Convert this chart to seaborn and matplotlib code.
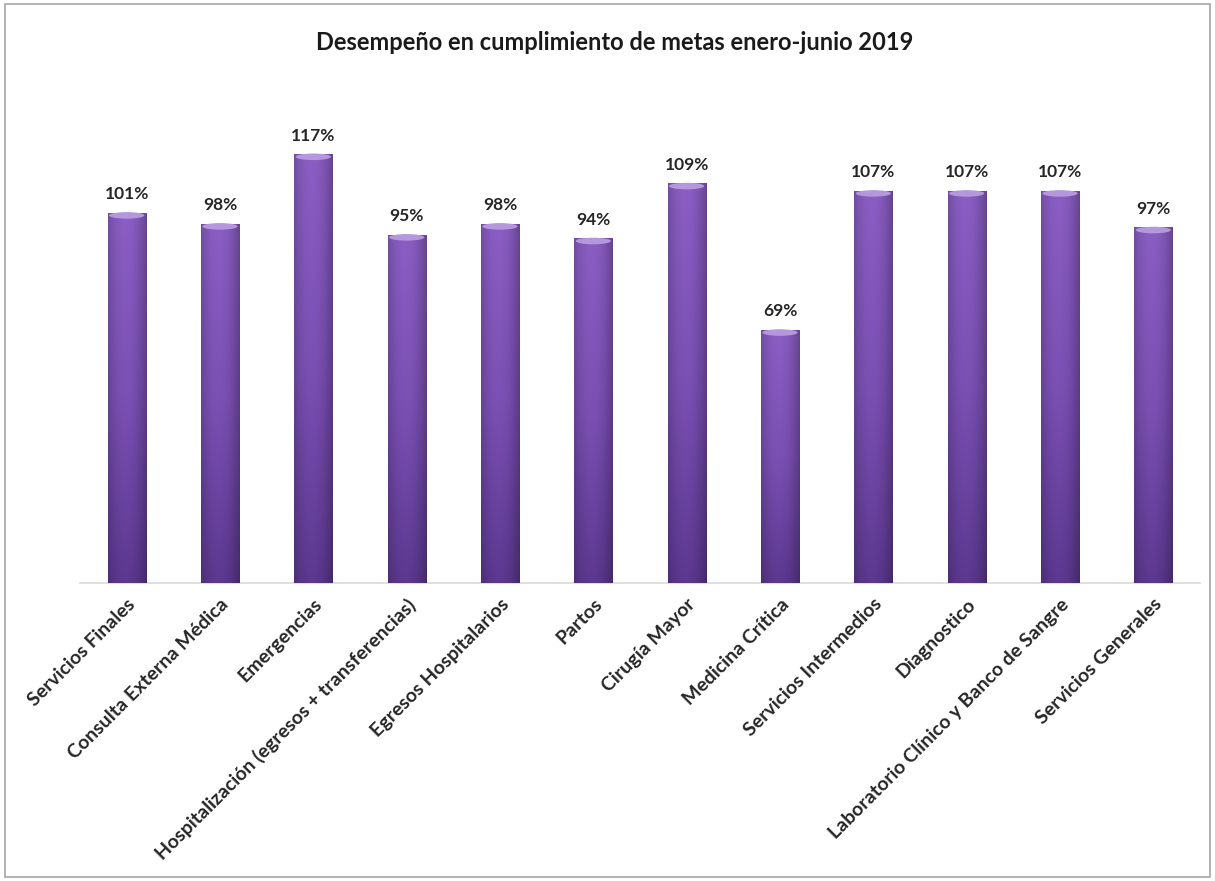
import numpy as np
import pandas as pd
import matplotlib
matplotlib.use("Agg")
import matplotlib.pyplot as plt
import seaborn as sns
from matplotlib.patches import Rectangle, Ellipse
from matplotlib.colors import LinearSegmentedColormap

categories = ["Servicios Finales", "Consulta Externa Médica", "Emergencias",
              "Hospitalización (egresos + transferencias)", "Egresos Hospitalarios",
              "Partos", "Cirugía Mayor", "Medicina Crítica", "Servicios Intermedios",
              "Diagnostico", "Laboratorio Clínico y Banco de Sangre", "Servicios Generales"]
values = [101, 98, 117, 95, 98, 94, 109, 69, 107, 107, 107, 97]
title = "Desempeño en cumplimiento de metas enero-junio 2019"

sns.set_theme(style="white")
plt.rcParams["font.family"] = ["Lato", "DejaVu Sans"]

df = pd.DataFrame({"cat": categories, "val": values})

fig = plt.figure(figsize=(12.15, 8.81), dpi=100)
ax = fig.add_axes([80/1215, 1-583/881, 1120/1215, 476/881])

sns.barplot(data=df, x="cat", y="val", color="#7a4fb0", width=0.41,
            saturation=1, ax=ax, zorder=2)

# gradient overlay on each bar
cmap = LinearSegmentedColormap.from_list("pg", ["#5c3890", "#7b50b4", "#8a5ec4"])
grad = np.linspace(0, 1, 256).reshape(-1, 1)
xs = np.linspace(0, 1, 64)
shade = 1 - 0.22 * (np.abs(xs - 0.45) * 2) ** 2
for p in ax.patches:
    x0, w, h = p.get_x(), p.get_width(), p.get_height()
    rgba = cmap(grad)[:, :, :3]
    img = rgba * shade[None, :, None]
    ax.imshow(img, extent=[x0, x0 + w, 0, h], origin="lower", aspect="auto",
              zorder=3, interpolation="bilinear")
    cap = Ellipse((x0 + w / 2, h - 0.6), w * 0.92, 1.8, color="#b497dc", zorder=4, lw=0)
    ax.add_patch(cap)
    p.set_edgecolor("none")

for i, v in enumerate(values):
    ax.text(i, v + 3, f"{v}%", ha="center", va="bottom", fontsize=12.5,
            fontweight="bold", color="#262626")

ax.set_xlim(-0.5, len(categories) - 0.5)
ax.set_ylim(0, 130)
ax.set_xlabel("")
ax.set_ylabel("")
ax.set_yticks([])
for s in ["top", "right", "left"]:
    ax.spines[s].set_visible(False)
ax.spines["bottom"].set_color("#d9d9d9")
ax.spines["bottom"].set_linewidth(1.2)
ax.tick_params(axis="x", length=0, pad=9)
ax.set_xticks(range(len(categories)))
ax.set_xticklabels(categories, rotation=45, ha="right", rotation_mode="anchor",
                   fontsize=14, fontweight="bold", color="#262626")

fig.text(615/1215, 1 - 42/881, title, ha="center", va="center", fontsize=17,
         fontweight="bold", color="#1a1a1a")

fig.patches.append(Rectangle((0.004, 0.004), 0.992, 0.992, transform=fig.transFigure,
                             fill=False, edgecolor="#a6a6a6", lw=1.2))

fig.savefig("out.png", dpi=100, facecolor="white")
